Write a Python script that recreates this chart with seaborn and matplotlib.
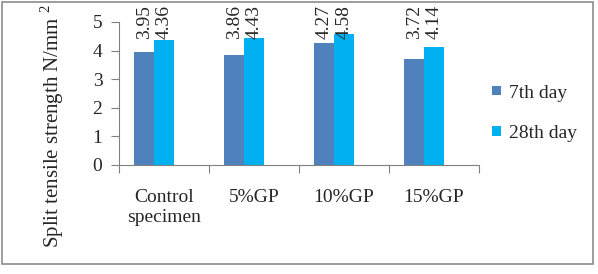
import matplotlib
matplotlib.use("Agg")
import matplotlib.pyplot as plt
import matplotlib.transforms as mtransforms
from matplotlib.patches import Rectangle
import pandas as pd
import seaborn as sns

# data
categories = ['Control\nspecimen', '5%GP', '10%GP', '15%GP']
day7 = [3.95, 3.86, 4.27, 3.72]
day28 = [4.36, 4.43, 4.58, 4.14]
series = ['7th day', '28th day']
colors = ['#4F81BD', '#00B0F0']

df = pd.DataFrame({
    'cat': categories * 2,
    'val': day7 + day28,
    'series': [series[0]] * 4 + [series[1]] * 4,
})

sns.set_style('white')
plt.rcParams['font.family'] = ['Liberation Serif', 'DejaVu Serif']
plt.rcParams['mathtext.fontset'] = 'custom'
plt.rcParams['mathtext.rm'] = 'Liberation Serif'

fig = plt.figure(figsize=(5.98, 2.74), dpi=100)
ax = fig.add_axes([0.199, 0.398, 0.602, 0.522])

sns.barplot(data=df, x='cat', y='val', hue='series', palette=colors,
            width=0.44, ax=ax, saturation=1, legend=True, linewidth=0)

# value labels, rotated and hanging from the top like the original
trans = mtransforms.blended_transform_factory(ax.transData, ax.transAxes)
for cont in ax.containers:
    for bar in cont:
        h = bar.get_height()
        ax.text(bar.get_x() + bar.get_width() / 2, 1.12, '%.2f' % h,
                rotation=90, ha='center', va='top', fontsize=14,
                transform=trans, clip_on=False)

# category slots are shifted a bit to the right of the bars in the original
off = 0.111
ax.set_ylim(0, 5)
ax.set_xlim(-0.5 + off, 3.5 + off)
ax.set_yticks(range(6))
ax.tick_params(axis='y', labelsize=14, length=6, width=0.8, color='#808080',
               left=True, pad=6)
ax.set_xticks([i + off for i in range(4)])
ax.set_xticklabels(categories, fontsize=14, linespacing=1.3)
ax.tick_params(axis='x', which='major', length=0, pad=17)
ax.set_xticks([i - 0.5 + off for i in range(5)], minor=True)
ax.tick_params(axis='x', which='minor', length=6, width=0.8, color='#808080', bottom=True)

for s in ['top', 'right']:
    ax.spines[s].set_visible(False)
for s in ['left', 'bottom']:
    ax.spines[s].set_color('#808080')
    ax.spines[s].set_linewidth(0.8)

ax.set_xlabel('')
ax.set_ylabel('Split tensile strength N/mm$^{\\,\\,2}$', fontsize=15)
ax.yaxis.set_label_coords(-0.147, 0.27)

ax.legend(loc='center left', bbox_to_anchor=(1.035, 0.36), frameon=False,
          fontsize=14, handlelength=0.5, handleheight=0.36,
          handletextpad=0.4, labelspacing=1.2, borderaxespad=0, borderpad=0)

fig.patches.append(Rectangle((0.0035, 0.036), 0.988, 0.957, transform=fig.transFigure,
                             fill=False, edgecolor='#8c8c8c', linewidth=1.2))

fig.savefig('out.png', dpi=100)
